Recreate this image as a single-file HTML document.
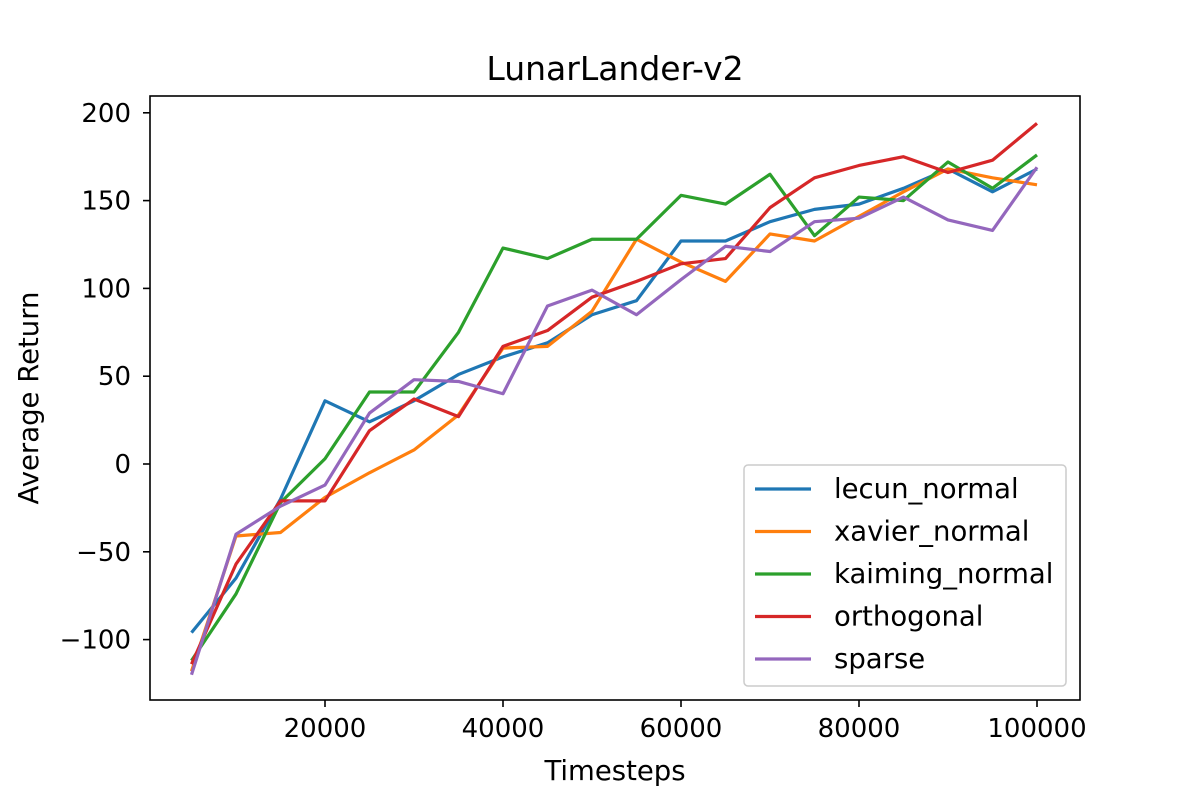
<!DOCTYPE html>
<html><head><meta charset="utf-8"><style>body{margin:0;background:#fff}svg{display:block;font-family:"DejaVu Sans","Liberation Sans",sans-serif}</style></head>
<body>
<svg width="1200" height="800" id="c">
<rect x="0" y="0" width="1200" height="800" fill="#fff"/>
<text x="615" y="80" font-size="33" text-anchor="middle">LunarLander-v2</text>
<text x="615" y="780" font-size="27.5" text-anchor="middle">Timesteps</text>
<text transform="translate(38,398) rotate(-90)" font-size="27.5" text-anchor="middle">Average Return</text>
<g id="ticks"></g>
<g id="lines"></g>
<rect x="150" y="96" width="930" height="604" fill="none" stroke="#000" stroke-width="1.6"/>
<g id="legend"></g>
</svg>
<script>
const xs=[5000,10000,15000,20000,25000,30000,35000,40000,45000,50000,55000,60000,65000,70000,75000,80000,85000,90000,95000,100000];
const seriesNames=["lecun_normal","xavier_normal","kaiming_normal","orthogonal","sparse"];
const lecun=[-96,-65,-20,36,24,36,51,61,69,85,93,127,127,138,145,148,157,168,155,168];
const xavier=[-118,-41,-39,-19,-5,8,28,66,67,87,128,115,104,131,127,141,155,168,163,159];
const kaiming=[-112,-74,-22,3,41,41,75,123,117,128,128,153,148,165,130,152,150,172,157,176];
const orthogonal=[-114,-57,-21,-21,19,37,27,67,76,95,104,114,117,146,163,170,175,166,173,194];
const sparse=[-120,-40,-24,-12,29,48,47,40,90,99,85,105,124,121,138,140,152,139,133,169];
const xTicks=[20000,40000,60000,80000,100000];
const yTicks=[-100,-50,0,50,100,150,200];
const colors=["#1f77b4","#ff7f0e","#2ca02c","#d62728","#9467bd"];
const X=t=>325+(t-20000)*0.0089;
const Y=v=>464-v*1.756;
const NS="http://www.w3.org/2000/svg";
function mk(tag,attrs,parent){const e=document.createElementNS(NS,tag);for(const k in attrs)e.setAttribute(k,attrs[k]);parent.appendChild(e);return e;}
const tg=document.getElementById('ticks');
xTicks.forEach(t=>{
 const l=mk('line',{x1:X(t),x2:X(t),y1:700,y2:707,stroke:'#000','stroke-width':1.6},tg);
 
 
 const s=mk('text',{x:X(t),y:737,'font-size':26,'text-anchor':'middle'},tg);s.textContent=t;
 
 
});
yTicks.forEach(v=>{
 const l=mk('line',{x1:143,x2:150,y1:Y(v),y2:Y(v),stroke:'#000','stroke-width':1.6},tg);
 
 
 const s=mk('text',{x:131,y:Y(v)+9,'font-size':26,'text-anchor':'end'},tg);s.textContent=v<0?'\u2212'+(-v):v;
 
 
});
const lg=document.getElementById('lines');
[lecun,xavier,kaiming,orthogonal,sparse].forEach((d,i)=>{
 const p=mk('polyline',{points:d.map((v,j)=>X(xs[j])+','+Y(v)).join(' '),fill:'none',stroke:colors[i],'stroke-width':3.2,'stroke-linejoin':'round'},lg);
 
 
});
const leg=document.getElementById('legend');
const box=mk('rect',{x:744,y:465,width:322,height:221,rx:4,fill:'#fff','fill-opacity':0.8,stroke:'#ccc','stroke-width':1.5},leg);


seriesNames.forEach((n,i)=>{
 const y=489+i*42.5;
 const l=mk('line',{x1:755,x2:811,y1:y,y2:y,stroke:colors[i],'stroke-width':3.2},leg);
 
 
 const t=mk('text',{x:834,y:y+9,'font-size':27.5},leg);t.textContent=n;
 
 
});
</script>
</body></html>
